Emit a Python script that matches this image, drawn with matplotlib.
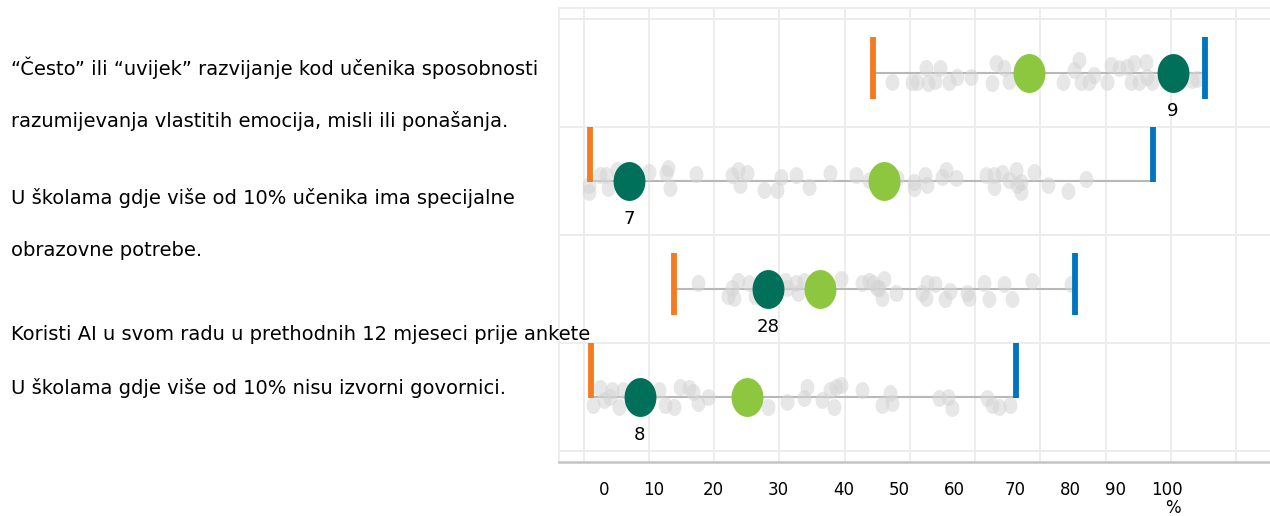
import numpy as np
import matplotlib
matplotlib.use('Agg')
import matplotlib.pyplot as plt
from matplotlib.path import Path
from matplotlib import font_manager

# row texts (each row can have more than one line)
row_labels = [
    ["\u201c\u010cesto\u201d ili \u201cuvijek\u201d razvijanje kod u\u010denika sposobnosti",
     "razumijevanja vlastitih emocija, misli ili pona\u0161anja."],
    ["U \u0161kolama gdje vi\u0161e od 10% u\u010denika ima specijalne",
     "obrazovne potrebe."],
    ["Koristi AI u svom radu u prethodnih 12 mjeseci prije ankete"],
    ["U \u0161kolama gdje vi\u0161e od 10% nisu izvorni govornici."],
]

# values per row (percent)
min_val = [44.3, 1.0, 13.9, 1.2]
max_val = [95.3, 87.3, 75.3, 66.2]
avg_val = [68.2, 46.0, 36.3, 25.0]
country_val = [90.3, 7.0, 28.3, 8.6]
country_lbl = ["9", "7", "28", "8"]

# other countries (value, vertical jitter in px)
dots_x = [
    [47.3, 50.4, 51.1, 52.5, 52.8, 53.8, 54.7, 56.0, 57.3, 59.4, 62.6, 63.2, 64.5, 65.2,
     73.5, 75.2, 76.0, 76.3, 77.5, 78.3, 80.2, 80.9, 82.1, 83.3, 83.9, 84.4, 85.1, 86.2,
     86.4, 87.1, 93.3, 94.0],
    [0.9, 0.9, 2.5, 3.5, 3.7, 5.1, 10.1, 12.7, 12.9, 13.3, 17.2, 22.7, 23.6, 23.9, 25.0,
     27.7, 29.6, 30.3, 32.6, 34.5, 37.7, 41.7, 43.8, 48.1, 50.7, 50.7, 52.4, 52.7, 55.0,
     55.6, 57.1, 61.7, 62.9, 62.9, 64.2, 65.2, 66.3, 66.5, 67.1, 67.1, 69.1, 71.1, 74.3, 77.0],
    [17.5, 22.1, 23.1, 22.8, 23.6, 25.4, 26.2, 30.8, 31.2, 32.6, 32.8, 33.8, 39.5, 42.6,
     43.8, 44.9, 44.3, 46.1, 45.3, 45.8, 47.9, 51.9, 52.5, 52.7, 53.8, 55.4, 56.2, 58.7,
     59.0, 61.4, 62.2, 64.5, 65.7, 68.8, 74.7],
    [1.4, 2.5, 3.2, 4.0, 4.4, 5.5, 6.0, 11.6, 12.4, 13.9, 14.7, 16.2, 16.7, 17.5, 19.0,
     28.2, 31.1, 33.8, 34.2, 36.6, 37.7, 38.4, 38.7, 39.5, 42.6, 45.8, 46.9, 47.2, 54.5,
     55.9, 56.4, 61.9, 62.6, 63.6, 65.4],
]
dots_dy = [
    [9, 9, 9, -5, 10, 8, -5, 9, 4, 4, 10, -10, -5, 8,
     9, -3, -13, 9, 9, 2, 9, -8, -5, -6, 9, -10, 9, -11,
     4, 9, 7, 6],
    [4, 11, -6, -6, 7, -11, -9, -8, -13, 7, -7, -6, -11, 4, -8,
     9, 9, -4, -6, 6, -8, -6, -1, -3, 1, 7, -6, 4, -4,
     -11, -3, -6, -6, 6, -8, -1, -11, 4, 1, 11, -9, 4, 10, -2],
    [-6, 7, 9, -1, -8, -6, 7, -8, -1, -6, 4, -8, -10, -6,
     -8, -1, -6, -10, -1, 9, 4, 4, 9, -6, -5, 10, 2, 4,
     9, -6, 10, -5, 10, -8, -5],
    [8, -9, 3, 0, -7, 10, -7, -7, 8, 10, -10, -9, -5, 6, 0,
     10, 5, 1, -10, 3, -7, 10, -10, -12, -7, 8, -4, 6, 1,
     0, 11, 1, 8, 10, 8],
]

tick_pos = [3.1, 10.8, 19.9, 29.8, 39.8, 48.4, 56.8, 66.2, 74.6, 81.5, 89.4]
tick_lbl = ["0", "10", "20", "30", "40", "50", "60", "70", "80", "90", "100"]

names = {f.name for f in font_manager.fontManager.ttflist}
if 'Liberation Sans Narrow' in names:
    plt.rcParams['font.family'] = ['Liberation Sans Narrow', 'DejaVu Sans']
    fs_txt, fs_tick, fs_lbl = 16, 15.5, 16.5
else:
    plt.rcParams['font.family'] = ['DejaVu Sans']
    fs_txt, fs_tick, fs_lbl = 14, 12, 13

c_orange = '#F47B20'
c_blue = '#0075BF'
c_dark = '#00705B'
c_light = '#8DC63F'

t = np.linspace(0, 2 * np.pi, 72)
ell = Path(np.column_stack([0.82 * np.cos(t), np.sin(t)]), closed=True)

fig = plt.figure(figsize=(12.7, 5.16), dpi=100)
ax = fig.add_axes([0.440, 0.1047, 0.560, 0.8798])
px = 108.0  # pixels per row

ylist = np.arange(len(min_val))
for i in ylist:
    ax.plot([min_val[i], max_val[i]], [i, i], color='#b8b8b8', lw=1.5, zorder=2)
    dy = np.array(dots_dy[i]) / px
    ax.plot(dots_x[i], i + dy, ls='none', marker=ell, ms=12.2,
            mfc='#d4d4d4', mec='none', alpha=0.55, zorder=3)
    if i % 2 == 0:
        lo, hi = i - 0.33, i + 0.24
    else:
        lo, hi = i - 0.5, i + 0.01
    ax.vlines(min_val[i], lo, hi, color=c_orange, lw=4.2, zorder=4)
    ax.vlines(max_val[i], lo, hi, color=c_blue, lw=4.2, zorder=4)
    ax.plot(avg_val[i], i, marker=ell, ms=28, mfc=c_light, mec='none', zorder=5)
    ax.plot(country_val[i], i, marker=ell, ms=28, mfc=c_dark, mec='none', zorder=6)
    ax.text(country_val[i], i + 0.35, country_lbl[i], ha='center', va='center',
            fontsize=fs_lbl, color='black')

ax.set_xticks(np.arange(0, 101, 10))
ax.set_xticklabels([])
ax.set_xticks(tick_pos, tick_lbl, minor=True)
ax.set_yticks([-0.5, 0.5, 1.5, 2.5, 3.5])
ax.set_yticklabels([])
ax.set_xlim(-3.8, 105.2)
ax.set_ylim(3.6, -0.6)
ax.tick_params(which='both', length=0)
ax.tick_params(axis='x', which='minor', pad=14, labelsize=fs_tick, labelcolor='black')
ax.grid(True, which='major', color='#ececec', lw=1.3)
ax.set_axisbelow(True)

for s in ['top', 'left']:
    ax.spines[s].set_color('#ececec')
    ax.spines[s].set_linewidth(1.3)
ax.spines['right'].set_visible(False)
ax.spines['bottom'].set_color('#c4c4c4')
ax.spines['bottom'].set_linewidth(1.8)

ax.text(90.4, 3.6 + 46 / px, '%', ha='center', va='center', fontsize=fs_tick)

# row texts at the left, positions in figure pixels from top
line_y = [[68, 121], [198, 250], [335], [388]]
H = 516.0
for lines, ys in zip(row_labels, line_y):
    for s, y in zip(lines, ys):
        fig.text(11 / 1270, 1 - y / H, s, ha='left', va='center', fontsize=fs_txt)

fig.savefig('out.png', dpi=100)
